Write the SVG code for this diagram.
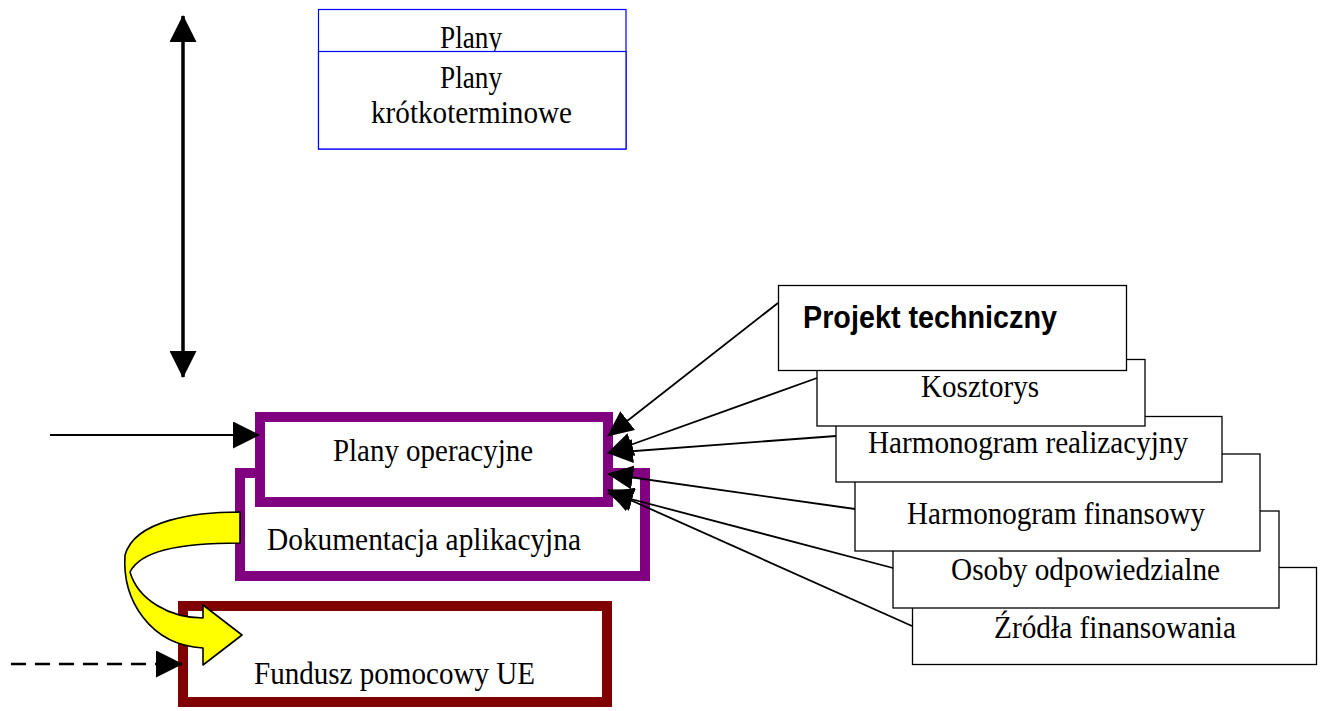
<svg xmlns="http://www.w3.org/2000/svg" width="1327" height="711" viewBox="0 0 1327 711">
<style>
.t{font-family:"Liberation Serif","Times New Roman",serif;font-size:32px;fill:#000}
.tb{font-family:"Liberation Sans",Arial,sans-serif;font-size:32px;font-weight:bold;fill:#000}
.rb{fill:#fff;stroke:#000;stroke-width:1.3}
.conn{stroke:#000;stroke-width:1.8;fill:none;marker-end:url(#ahS)}
</style>
<defs>
<marker id="ahS" markerUnits="userSpaceOnUse" markerWidth="26" markerHeight="24" refX="25" refY="12" orient="auto" viewBox="0 0 26 24"><path d="M0,0 L26,12 L0,24 Z" fill="#000"/></marker>
<marker id="ahL" markerUnits="userSpaceOnUse" markerWidth="27" markerHeight="27" refX="26" refY="13.5" orient="auto-start-reverse" viewBox="0 0 27 27"><path d="M0,0 L27,13.5 L0,27 Z" fill="#000"/></marker>
</defs>
<rect width="1327" height="711" fill="#fff"/>

<g id="plany">
<rect x="318.5" y="9.5" width="307.5" height="139.5" fill="#fff" stroke="#0000ff" stroke-width="1.2"/>
<text class="t" x="440" y="48" textLength="62" lengthAdjust="spacingAndGlyphs">Plany</text>
<rect x="318.5" y="51.5" width="307.5" height="97.5" fill="#fff" stroke="#0000ff" stroke-width="1.2"/>
<text class="t" x="440" y="88" textLength="62" lengthAdjust="spacingAndGlyphs">Plany</text>
<text class="t" x="371" y="123" textLength="201" lengthAdjust="spacingAndGlyphs">krótkoterminowe</text>
</g>

<g id="fundusz">
<rect x="183" y="606" width="424" height="96" fill="#fff" stroke="#800000" stroke-width="10"/>
<text class="t" x="254" y="684" textLength="281" lengthAdjust="spacingAndGlyphs">Fundusz pomocowy UE</text>
</g>

<g id="dokumentacja">
<rect x="240" y="473" width="405" height="103" fill="#fff" stroke="#800080" stroke-width="10"/>
<text class="t" x="267" y="550" textLength="314" lengthAdjust="spacingAndGlyphs">Dokumentacja aplikacyjna</text>
</g>

<g id="operacyjne">
<rect x="260" y="417" width="348" height="85" fill="#fff" stroke="#800080" stroke-width="10"/>
<text class="t" x="333" y="461" textLength="200" lengthAdjust="spacingAndGlyphs">Plany operacyjne</text>
</g>

<g id="zrodla">
<rect class="rb" x="912.5" y="567.5" width="404" height="97"/>
<text class="t" x="994" y="638" textLength="242" lengthAdjust="spacingAndGlyphs">Źródła finansowania</text>
</g>
<g id="osoby">
<rect class="rb" x="893" y="511" width="386" height="97"/>
<text class="t" x="951" y="580" textLength="269" lengthAdjust="spacingAndGlyphs">Osoby odpowiedzialne</text>
</g>
<g id="harm-fin">
<rect class="rb" x="855" y="454" width="405" height="97"/>
<text class="t" x="907" y="524" textLength="298" lengthAdjust="spacingAndGlyphs">Harmonogram finansowy</text>
</g>
<g id="harm-real">
<rect class="rb" x="836" y="416.5" width="386" height="65.5"/>
<text class="t" x="868" y="453" textLength="320" lengthAdjust="spacingAndGlyphs">Harmonogram realizacyjny</text>
</g>
<g id="kosztorys">
<rect class="rb" x="817" y="359.5" width="328" height="66.5"/>
<text class="t" x="921" y="397" textLength="118" lengthAdjust="spacingAndGlyphs">Kosztorys</text>
</g>
<g id="projekt">
<rect class="rb" x="778.5" y="285.5" width="348" height="85"/>
<text class="tb" x="803" y="328" textLength="254" lengthAdjust="spacingAndGlyphs">Projekt techniczny</text>
</g>

<g id="connectors">
<line x1="183" y1="16" x2="183" y2="377" stroke="#000" stroke-width="3.5" marker-start="url(#ahL)" marker-end="url(#ahL)"/>
<line x1="50" y1="435" x2="259" y2="435" stroke="#000" stroke-width="2" marker-end="url(#ahL)"/>
<line x1="11" y1="664" x2="182" y2="664" stroke="#000" stroke-width="2.5" stroke-dasharray="15 9" marker-end="url(#ahL)"/>
<path d="M240,512 C195,512 135,520 125,555 C122,600 150,645 203,648 L203,665 L242,635 L203,605 L203,618 C170,618 138,600 130,572 C140,552 175,543 240,543 Z" fill="#ffff00" stroke="#000" stroke-width="1.6" stroke-linejoin="round"/>
<line class="conn" x1="778" y1="303" x2="608" y2="436"/>
<line class="conn" x1="817" y1="378" x2="608" y2="453"/>
<line class="conn" x1="836" y1="436" x2="608" y2="453"/>
<line class="conn" x1="855" y1="509" x2="608" y2="474"/>
<line class="conn" x1="893" y1="568" x2="608" y2="493"/>
<line class="conn" x1="912" y1="626" x2="608" y2="490"/>
</g>
</svg>
